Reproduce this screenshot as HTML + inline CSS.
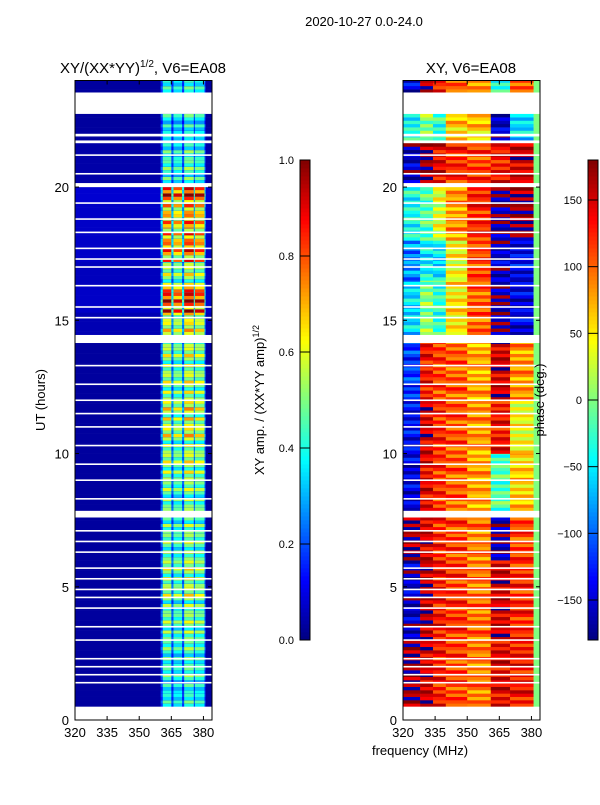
<!DOCTYPE html>
<html><head><meta charset="utf-8"><style>
body{margin:0;background:#fff;}
svg text{font-family:"Liberation Sans","DejaVu Sans",sans-serif;fill:#000;}
</style></head><body>
<svg id="fig" width="600" height="800" xmlns="http://www.w3.org/2000/svg">
<rect width="600" height="800" fill="#fff"/>
<text x="364" y="26" font-size="13" text-anchor="middle">2020-10-27 0.0-24.0</text>
<text x="143" y="73" font-size="15" text-anchor="middle">XY/(XX*YY)<tspan font-size="10" dy="-6">1/2</tspan><tspan dy="6">, V6=EA08</tspan></text>
<text x="471" y="73" font-size="15" text-anchor="middle">XY, V6=EA08</text>
<g id="left"></g>
<g id="right"></g>
<g id="axes"></g>
<text transform="translate(45,400) rotate(-90)" font-size="13" text-anchor="middle">UT (hours)</text>
<text x="420" y="755" font-size="13" text-anchor="middle">frequency (MHz)</text>
<text transform="translate(264,400) rotate(-90)" font-size="13" text-anchor="middle">XY amp. / (XX*YY amp)<tspan font-size="9" dy="-5">1/2</tspan></text>
<text transform="translate(544,400) rotate(-90)" font-size="13" text-anchor="middle">phase (deg.)</text>
</svg>
<script>
// ---- data ----
const ampBands = [ // [startHour, endHour, stripe amplitude, background]
 [0.5,1.5,0.40,0.03],[1.5,3,0.45,0.03],[3,4.5,0.50,0.03],[4.5,6,0.55,0.03],[6,7.6,0.50,0.03],
 [7.85,9,0.50,0.03],[9,10.5,0.55,0.03],[10.5,12,0.60,0.03],[12,14.15,0.55,0.03],
 [14.45,15.3,0.60,0.05],[15.3,16.3,0.85,0.07],[16.3,17.2,0.55,0.06],[17.2,18.5,0.75,0.07],
 [18.5,19.4,0.70,0.07],[19.4,20.0,0.85,0.08],[20.15,21.65,0.45,0.04],[21.75,22.75,0.40,0.03],
 [23.55,24,0.40,0.03]];
const stripeStarts = [361,366,371,376];
const stripeEnds = [365,370,375.5,380.5];
const stripeGain = [1.0,0.9,1.05,0.95];
const rowTexture = [1.0,0.8,1.15,0.7,0.95,1.2,0.85,1.05]; // per fine row variation
const phaseEdges = [320,328,334,340,350,361,370,381,384];
const phaseBands = [ // [start,end, 8 column phases]
 [0.5,3,  170,150,125,110,90,140,130,0],
 [3,6,   -160,160,130,115,95,150,120,0],
 [6,7.6,  170,150,120,110,90,-170,110,0],
 [7.85,10,-150,140,115,100,75,-20,60,0],
 [10,12, -140,150,120,105,80,130,40,0],
 [12,14.15,-120,130,110,100,75,150,80,0],
 [14.45,16.5,-60,0,-30,50,100,-170,-150,0],
 [16.5,18,-90,-50,-60,40,110,-160,-140,0],
 [18,20,  -40,-20,30,80,120,-170,170,0],
 [20.15,21.65,-160,170,140,120,110,130,150,0],
 [21.75,22.75,-40,0,-30,60,60,-160,-60,0],
 [23.55,24,-150,160,120,100,80,-30,110,0]];
const phaseTexture = [0,25,-20,15,-30,10,35,-15];
const gaps = [[0,0.5],[22.75,23.55],[7.6,7.85],[14.15,14.45],[20.0,20.15],[21.65,21.75],[21.9,22.0]];
const lineHours = [1.4,1.7,2.0,2.3,3.0,3.5,4.2,4.6,4.9,5.3,5.7,6.3,6.7,7.1,8.3,9.0,9.6,10.3,11.0,11.5,12.0,12.6,13.3,15.1,15.5,16.3,17.0,17.3,17.7,18.3,18.8,19.4,20.5,21.2];
const yTicks = [0,5,10,15,20];
const xTicks = [320,335,350,365,380];
const ampTicks = [0.0,0.2,0.4,0.6,0.8,1.0];
const phaseTicks = [-150,-100,-50,0,50,100,150];
// ---- scales ----
const NS="http://www.w3.org/2000/svg";
const Y0=720, Y1=80.5;
const y = h => Y0 - h*(Y0-Y1)/24;
const xL = f => 75 + (f-320)*(137/64);
const xR = f => 403 + (f-320)*(137/64);
function jet(v){v=Math.max(0,Math.min(1,v));
 const c=t=>Math.max(0,Math.min(1,1.5-Math.abs(4*v-t)));
 return `rgb(${Math.round(255*c(3))},${Math.round(255*c(2))},${Math.round(255*c(1))})`;}
function rect(g,x,yy,w,h,fill,name){const r=document.createElementNS(NS,'rect');
 r.setAttribute('x',x);r.setAttribute('y',yy);r.setAttribute('width',w);r.setAttribute('height',h);r.setAttribute('fill',fill);
 
 
 g.appendChild(r);return r;}
function txt(g,x,yy,s,anchor,size,name){const t=document.createElementNS(NS,'text');
 t.setAttribute('x',x);t.setAttribute('y',yy);t.setAttribute('text-anchor',anchor);t.setAttribute('font-size',size);t.textContent=s;
 
 
 g.appendChild(t);}
const L=document.getElementById('left'), R=document.getElementById('right'), A=document.getElementById('axes');
const step=0.125;
// amplitude heatmap
ampBands.forEach(b=>{
 for(let h=b[0],i=0;h<b[1]-1e-6;h+=step,i++){
  const h2=Math.min(h+step,b[1]); const tex=rowTexture[Math.round(h/step)%rowTexture.length];
  rect(L,xL(320),y(h2),xL(384)-xL(320),y(h)-y(h2)+0.3,jet(b[3]),'amp-row-background');
  rect(L,xL(360),y(h2),xL(381)-xL(360),y(h)-y(h2)+0.3,jet(b[2]*0.45*tex),'amp-row-between');
  stripeStarts.forEach((s,k)=>{
   rect(L,xL(s),y(h2),xL(stripeEnds[k])-xL(s),y(h)-y(h2)+0.3,jet(b[2]*stripeGain[k]*tex),'amp-cell');
  });
 }
});
// phase heatmap
phaseBands.forEach(b=>{
 for(let h=b[0];h<b[1]-1e-6;h+=step){
  const h2=Math.min(h+step,b[1]); const idx=Math.round(h/step);
  for(let c=0;c<8;c++){
   const tex = c===7?0:phaseTexture[(idx+c)%phaseTexture.length];
   let p=b[2+c]+tex; if(p>180)p-=360; if(p<-180)p+=360;
   rect(R,xR(phaseEdges[c]),y(h2),xR(phaseEdges[c+1])-xR(phaseEdges[c])+0.3,y(h)-y(h2)+0.3,jet((p+180)/360),'phase-cell');
  }
 }
});
// gaps and flagged lines
[L,R].forEach((g,k)=>{const xs=k?xR:xL;
 gaps.forEach(gp=>rect(g,xs(320),y(gp[1]),xs(384)-xs(320),y(gp[0])-y(gp[1]),'#fff','flagged-gap'));
 lineHours.forEach(hh=>rect(g,xs(320),y(hh)-0.8,xs(384)-xs(320),1.6,'#fff','flagged-line'));
});
// axes frames & ticks
[[75,'left'],[403,'right']].forEach(([x0,nm])=>{
 const f=document.createElementNS(NS,'rect');
 f.setAttribute('x',x0);f.setAttribute('y',80.5);f.setAttribute('width',137);f.setAttribute('height',639.5);
 f.setAttribute('fill','none');f.setAttribute('stroke','#000');f.setAttribute('stroke-width','1');
 
 
 A.appendChild(f);
 const xs = nm==='left'?xL:xR;
 yTicks.forEach(t=>{rect(A,x0,y(t)-0.5,4,1,'#000','y-tick');rect(A,x0+133,y(t)-0.5,4,1,'#000','y-tick');
  txt(A,x0-6,y(t)+5,String(t),'end',13,'y-tick-label');});
 xTicks.forEach(t=>{rect(A,xs(t)-0.5,716,1,4,'#000','x-tick');rect(A,xs(t)-0.5,80.5,1,4,'#000','x-tick');
  txt(A,xs(t),737,String(t),'middle',13,'x-tick-label');});
});
// colorbars
function cbar(x0,ticks,lo,hi,fmt,nm){
 const top=160,bot=640,n=120;
 for(let i=0;i<n;i++){const v=i/n; rect(A,x0,bot-(i+1)*(bot-top)/n,10,(bot-top)/n+0.4,jet(v+0.5/n),nm+'-colorbar-cell');}
 const f=document.createElementNS(NS,'rect');
 f.setAttribute('x',x0);f.setAttribute('y',top);f.setAttribute('width',10);f.setAttribute('height',bot-top);
 f.setAttribute('fill','none');f.setAttribute('stroke','#000');
 
 
 A.appendChild(f);
 ticks.forEach(t=>{const yy=bot-(t-lo)/(hi-lo)*(bot-top);
  rect(A,x0,yy-0.5,10,1,'#000',nm+'-colorbar-tick');
  txt(A,x0-6,yy+4,fmt(t),'end',11,nm+'-colorbar-tick-label');});
}
cbar(300,ampTicks,0,1,t=>t.toFixed(1),'amp');
cbar(588,phaseTicks,-180,180,t=>t<0?'\u2212'+(-t):String(t),'phase');
</script>
</body></html>
